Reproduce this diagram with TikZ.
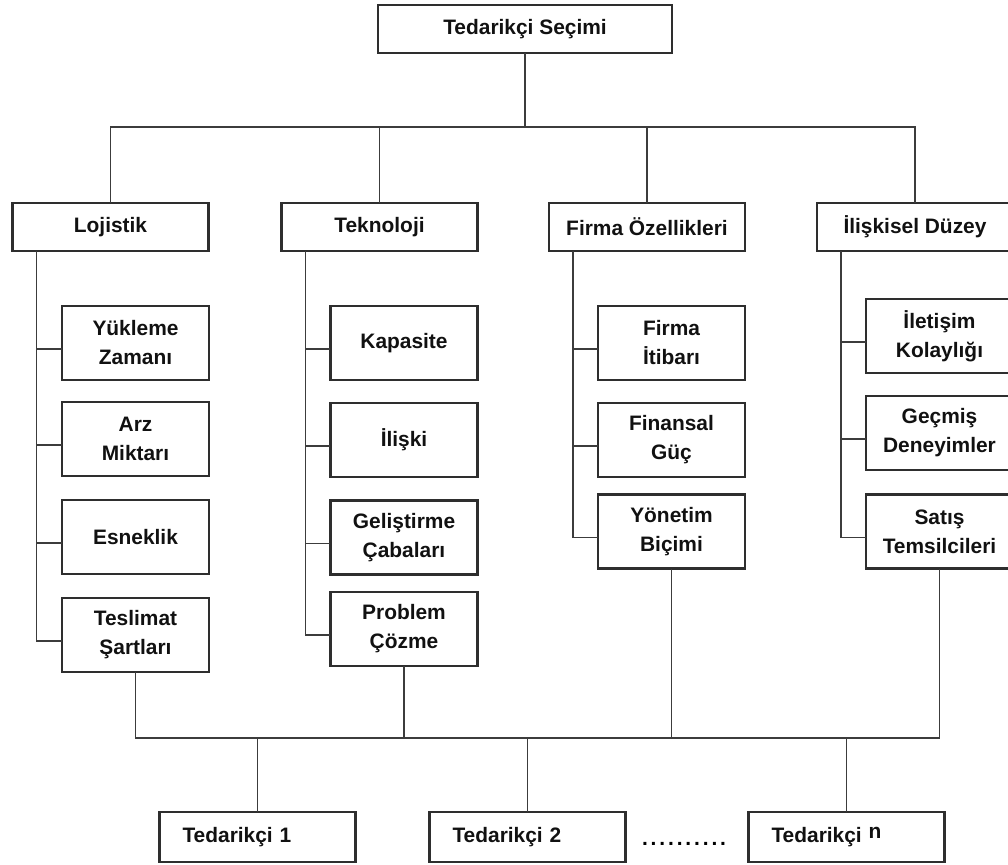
\documentclass[tikz,border=0pt]{standalone}
\usepackage{fontspec}
\setmainfont{Liberation Sans}
\usepackage{tikz}
\usetikzlibrary{positioning,calc}
\definecolor{tsedge}{HTML}{2E2E2E}
\definecolor{tsline}{HTML}{3C3C3C}
\definecolor{tstext}{HTML}{111111}

\begin{document}
\begin{tikzpicture}[
  x=0.02cm, y=-0.02cm,
  font=\bfseries\fontsize{11.9}{16.5}\selectfont,
  line cap=rect,
  catbox/.style={draw=tsedge, line width=1.2pt, fill=white, text=tstext,
    minimum width=3.92cm, minimum height=0.96cm, inner sep=0pt},
  subbox/.style={catbox, minimum width=2.94cm, minimum height=1.48cm, align=center},
  supbox/.style={catbox, minimum height=1.0cm, text width=3.0cm, inner xsep=0.46cm, align=left},
  link/.style={draw=tsline, line width=1pt},
  buslink/.style={draw=tsline, line width=0.8pt},
]
\useasboundingbox (0,0) rectangle (1008,865);
\clip (0,0) rectangle (1008,865);

% ---------- root and the four criteria ----------
\node[catbox, minimum width=5.88cm] (top) at (525,29) {Tedarikçi Seçimi};

\node[catbox] (loj) at (110.5,227) {Lojistik};
\node[catbox] (tek) at (379.5,227) {Teknoloji};
\node[catbox] (fir) at (647,227) {Firma Özellikleri};
\node[catbox] (ili) at (915,227) {İlişkisel Düzey};

% ---------- sub-criteria ----------
\node[subbox] (l1) at (135.5,343) {Yükleme\\Zamanı};
\node[subbox] (l2) at (135.5,439) {Arz\\Miktarı};
\node[subbox] (l3) at (135.5,537) {Esneklik};
\node[subbox] (l4) at (135.5,635) {Teslimat\\Şartları};

\node[subbox] (t1) at (404,343) {Kapasite};
\node[subbox] (t2) at (404,440) {İlişki};
\node[subbox] (t3) at (404,537.5) {Geliştirme\\Çabaları};
\node[subbox] (t4) at (404,629) {Problem\\Çözme};

\node[subbox] (f1) at (671.5,343) {Firma\\İtibarı};
\node[subbox] (f2) at (671.5,440) {Finansal\\Güç};
\node[subbox] (f3) at (671.5,531.5) {Yönetim\\Biçimi};

\node[subbox] (r1) at (939.5,336) {İletişim\\Kolaylığı};
\node[subbox] (r2) at (939.5,433) {Geçmiş\\Deneyimler};
\node[subbox] (r3) at (939.5,531.5) {Satış\\Temsilcileri};

% ---------- suppliers ----------
\node[supbox] (s1) at (257.5,837) {Tedarikçi 1};
\node[supbox] (s2) at (527.5,837) {Tedarikçi 2};
\node[supbox] (sn) at (846.5,837) {Tedarikçi \raisebox{2pt}{n}};
\node[inner sep=0pt] (dots) at (684,844)
  {\makebox[1.68cm]{.\hfill.\hfill.\hfill.\hfill.\hfill.\hfill.\hfill.\hfill.\hfill.}};

% ---------- tree lines ----------
\coordinate (hub) at (525,127);
\draw[link] (top) -- (hub);
\foreach \c in {loj,tek,fir,ili} \draw[link] (\c.north) |- (hub);

\foreach \c/\last in {loj/l4, tek/t4, fir/f3, ili/r3} {
  \coordinate (sp\c) at ([xshift=5mm]\c.south west);
  \draw[link] (sp\c) |- ([yshift=-1.2mm]\last.west);
}
\foreach \c/\n in {loj/l1, loj/l2, loj/l3, tek/t1, tek/t2, tek/t3, fir/f1, fir/f2, ili/r1, ili/r2}
  \draw[link] ([yshift=-1.2mm]\n.west) -- ([yshift=-1.2mm]\n.west -| sp\c);

% ---------- bus to suppliers ----------
\coordinate (bus) at (0,738);
\draw[buslink] (l4.south) -- (l4.south |- bus) -- (r3.south |- bus) -- (r3.south);
\draw[buslink] (t4.south) -- (t4.south |- bus);
\draw[buslink] (f3.south) -- (f3.south |- bus);
\foreach \s in {s1,s2,sn} \draw[buslink] (\s.north) -- (\s.north |- bus);
\end{tikzpicture}
\end{document}
